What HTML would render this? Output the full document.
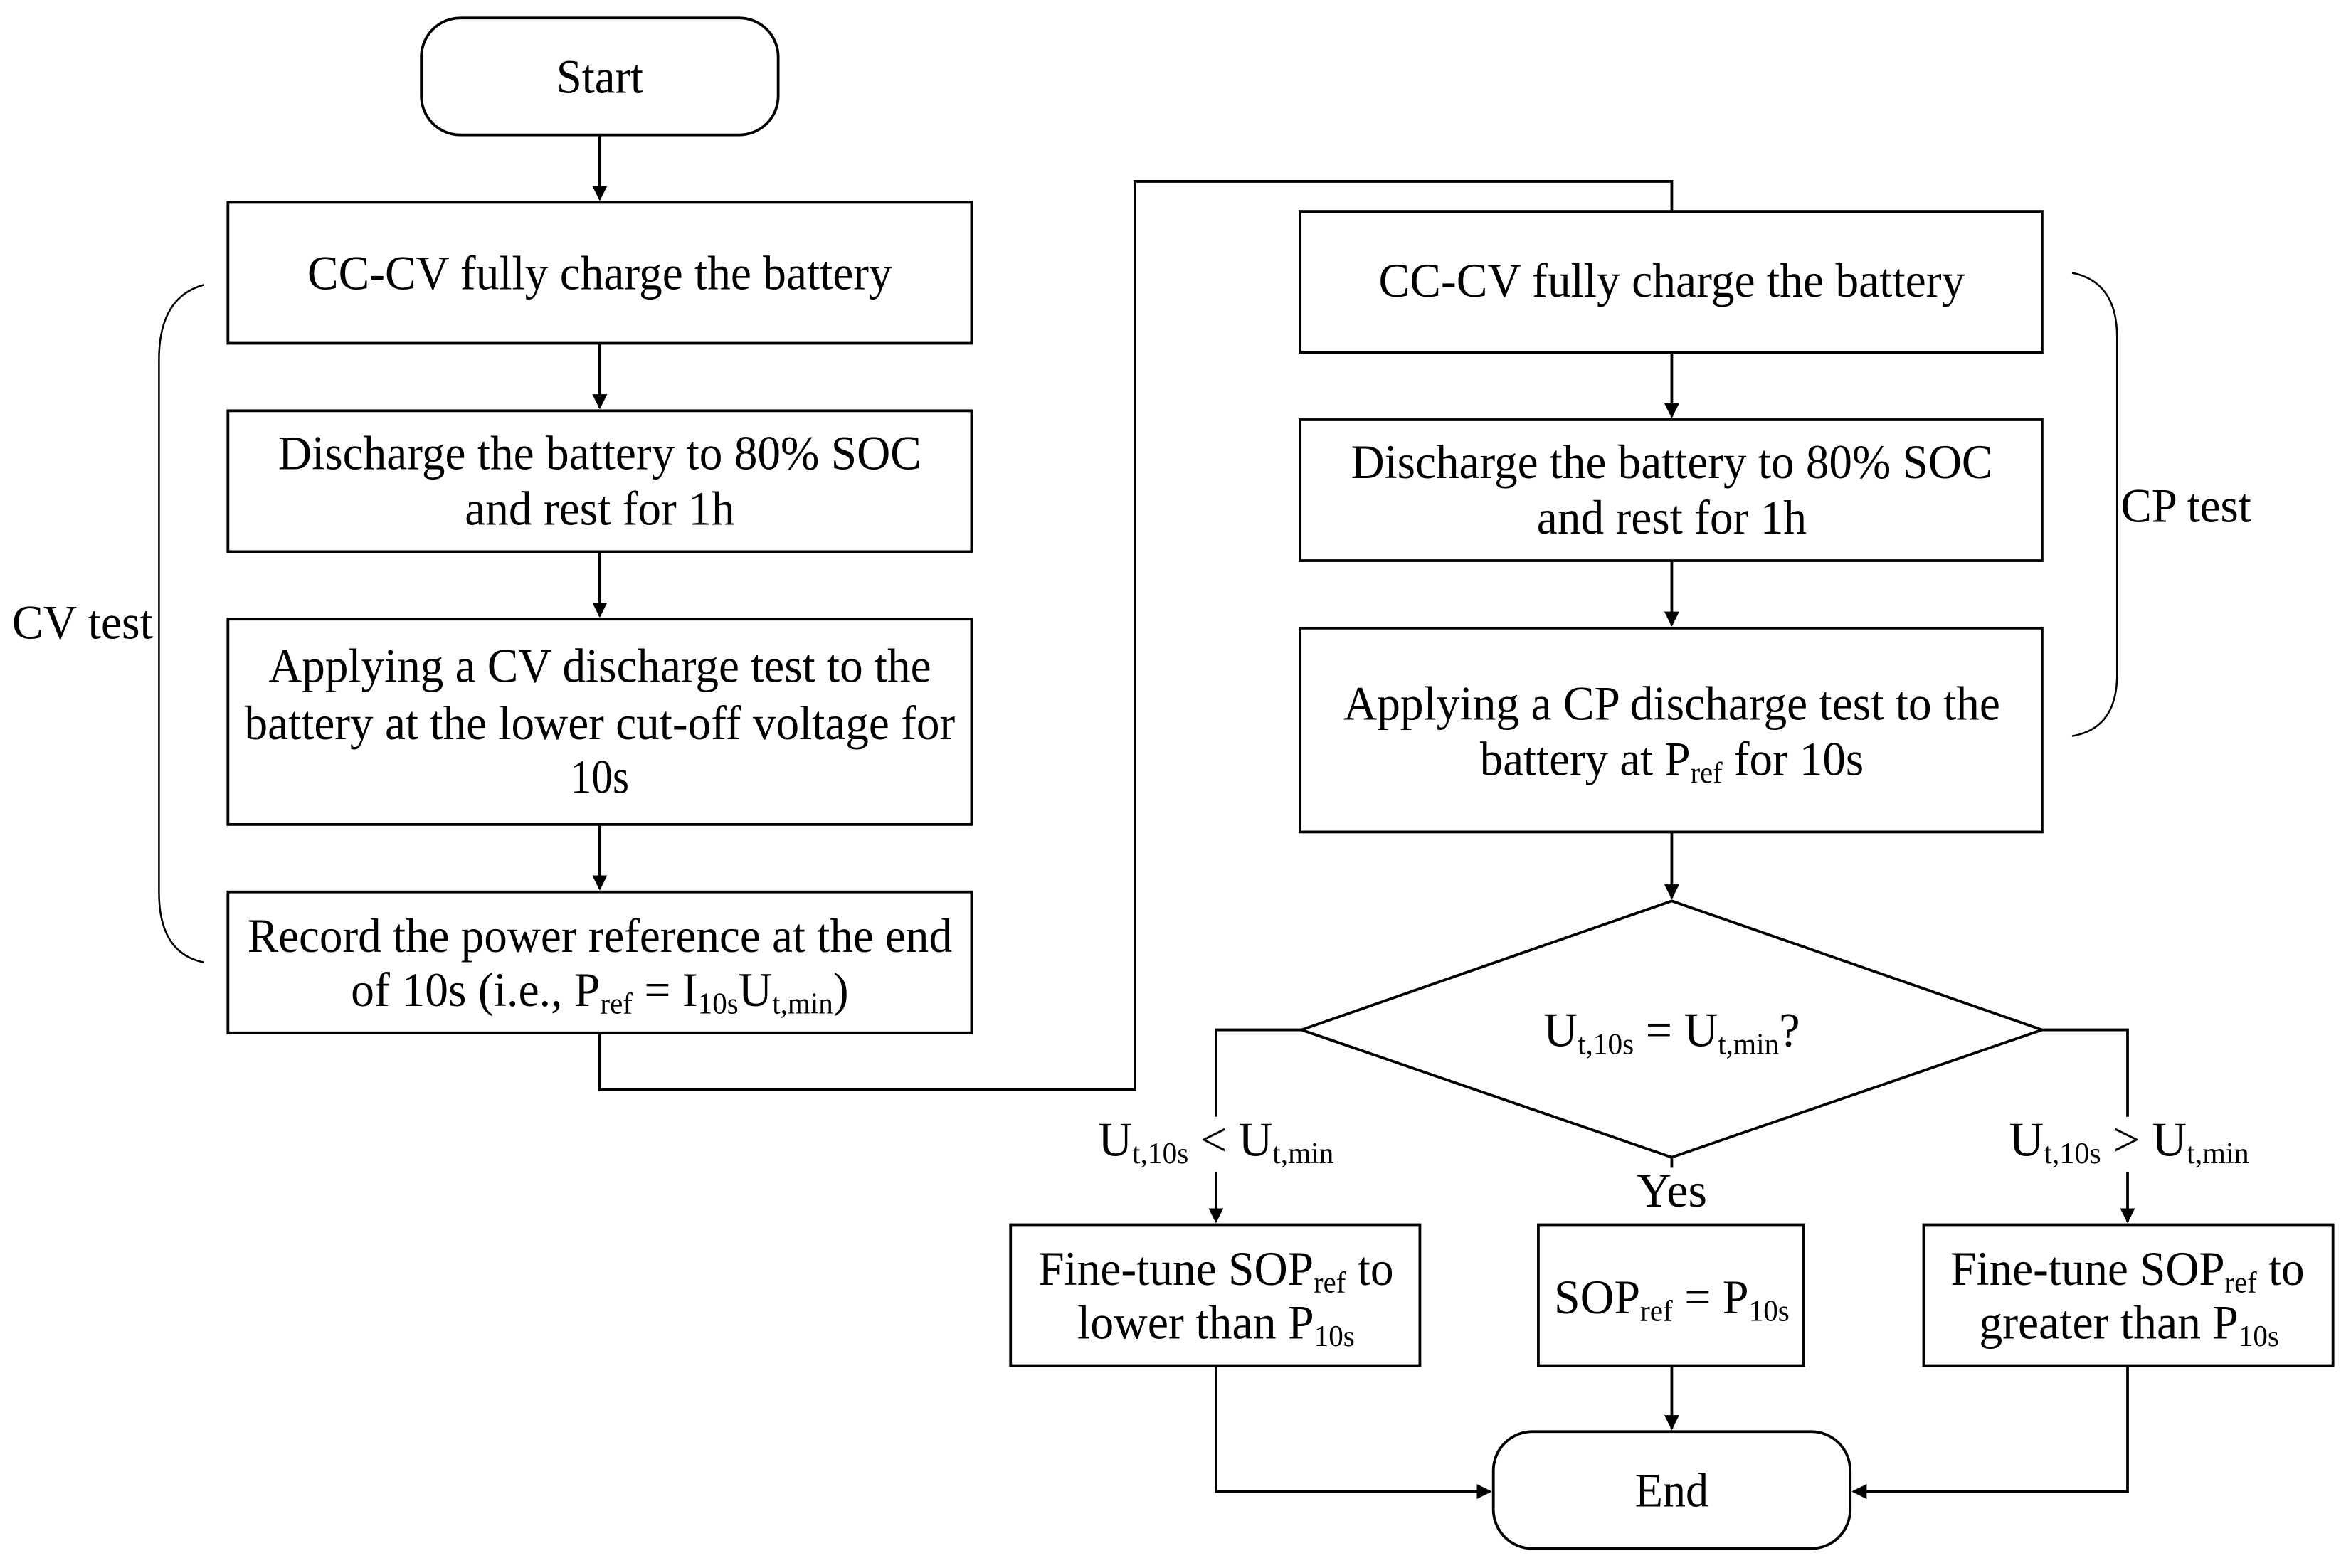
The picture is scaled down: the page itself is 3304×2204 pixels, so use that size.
<!DOCTYPE html>
<html><head><meta charset="utf-8"><style>
html,body{margin:0;padding:0;background:#fff;}
svg{display:block;}
text{font-family:"Liberation Serif",serif;font-size:32px;fill:#000;}
</style></head><body>
<svg width="3304" height="2204" viewBox="0 0 1568 1046" xmlns="http://www.w3.org/2000/svg">
<defs><marker id="a" markerWidth="10" markerHeight="10" refX="9" refY="5" orient="auto" markerUnits="userSpaceOnUse"><path d="M0,0 L10,5 L0,10 Z" fill="#000"/></marker></defs>
<g fill="none" stroke="#000" stroke-width="1.8">
<rect x="281" y="12" width="238" height="78" rx="26"/>
<rect x="152" y="135" width="496" height="94"/>
<rect x="152" y="274" width="496" height="94"/>
<rect x="152" y="413" width="496" height="137"/>
<rect x="152" y="595" width="496" height="94"/>
<rect x="867" y="141" width="495" height="94"/>
<rect x="867" y="280" width="495" height="94"/>
<rect x="867" y="419" width="495" height="136"/>
<polygon points="1115,601 1362,687 1115,772 868,687"/>
<rect x="674" y="817" width="273" height="94"/>
<rect x="1026" y="817" width="177" height="94"/>
<rect x="1283" y="817" width="273" height="94"/>
<rect x="996" y="955" width="238" height="78" rx="26"/>
<path d="M400,90 V133" marker-end="url(#a)"/>
<path d="M400,229 V272" marker-end="url(#a)"/>
<path d="M400,368 V411" marker-end="url(#a)"/>
<path d="M400,550 V593" marker-end="url(#a)"/>
<path d="M400,689 V727 H757 V121 H1115 V141"/>
<path d="M1115,235 V278" marker-end="url(#a)"/>
<path d="M1115,374 V417" marker-end="url(#a)"/>
<path d="M1115,555 V599" marker-end="url(#a)"/>
<path d="M868,687 H811 V745"/>
<path d="M811,782 V815" marker-end="url(#a)"/>
<path d="M1362,687 H1419 V745"/>
<path d="M1419,782 V815" marker-end="url(#a)"/>
<path d="M1115,772 V779"/>
<path d="M1115,911 V953" marker-end="url(#a)"/>
<path d="M811,911 V995 H994" marker-end="url(#a)"/>
<path d="M1419,911 V995 H1236" marker-end="url(#a)"/>
<path d="M136,190 Q106,198 106,240 V595 Q106,636 136,642" stroke-width="1.2"/>
<path d="M1382,182 Q1412,188 1412,225 V450 Q1412,486 1382,491" stroke-width="1.2"/>
</g>
<g text-anchor="middle">
<text x="400" y="62" textLength="58" lengthAdjust="spacingAndGlyphs">Start</text>
<text x="400" y="193" textLength="390" lengthAdjust="spacingAndGlyphs">CC-CV fully charge the battery</text>
<text x="400" y="313" textLength="429" lengthAdjust="spacingAndGlyphs">Discharge the battery to 80% SOC</text>
<text x="400" y="350" textLength="180" lengthAdjust="spacingAndGlyphs">and rest for 1h</text>
<text x="400" y="455" textLength="442" lengthAdjust="spacingAndGlyphs">Applying a CV discharge test to the</text>
<text x="400" y="493" textLength="474" lengthAdjust="spacingAndGlyphs">battery at the lower cut-off voltage for</text>
<text x="400" y="529" textLength="39" lengthAdjust="spacingAndGlyphs">10s</text>
<text x="400" y="635" textLength="470" lengthAdjust="spacingAndGlyphs">Record the power reference at the end</text>
<text x="400" y="671" textLength="332" lengthAdjust="spacingAndGlyphs">of 10s (i.e., P<tspan font-size="20" dy="5">ref</tspan><tspan dy="-5"> = I</tspan><tspan font-size="20" dy="5">10s</tspan><tspan dy="-5">U</tspan><tspan font-size="20" dy="5">t,min</tspan><tspan dy="-5">)</tspan></text>
<text x="1115" y="198" textLength="391" lengthAdjust="spacingAndGlyphs">CC-CV fully charge the battery</text>
<text x="1115" y="319" textLength="428" lengthAdjust="spacingAndGlyphs">Discharge the battery to 80% SOC</text>
<text x="1115" y="356" textLength="180" lengthAdjust="spacingAndGlyphs">and rest for 1h</text>
<text x="1115" y="480" textLength="438" lengthAdjust="spacingAndGlyphs">Applying a CP discharge test to the</text>
<text x="1115" y="517" textLength="256" lengthAdjust="spacingAndGlyphs">battery at P<tspan font-size="20" dy="5">ref</tspan><tspan dy="-5"> for 10s</tspan></text>
<text x="1115" y="698" textLength="171" lengthAdjust="spacingAndGlyphs">U<tspan font-size="20" dy="5">t,10s</tspan><tspan dy="-5"> = U</tspan><tspan font-size="20" dy="5">t,min</tspan><tspan dy="-5">?</tspan></text>
<text x="811" y="771" textLength="157" lengthAdjust="spacingAndGlyphs">U<tspan font-size="20" dy="5">t,10s</tspan><tspan dy="-5"> &lt; U</tspan><tspan font-size="20" dy="5">t,min</tspan></text>
<text x="1420" y="771" textLength="160" lengthAdjust="spacingAndGlyphs">U<tspan font-size="20" dy="5">t,10s</tspan><tspan dy="-5"> &gt; U</tspan><tspan font-size="20" dy="5">t,min</tspan></text>
<text x="1115" y="805" textLength="47" lengthAdjust="spacingAndGlyphs">Yes</text>
<text x="811" y="857" textLength="237" lengthAdjust="spacingAndGlyphs">Fine-tune SOP<tspan font-size="20" dy="5">ref</tspan><tspan dy="-5"> to</tspan></text>
<text x="811" y="893" textLength="185" lengthAdjust="spacingAndGlyphs">lower than P<tspan font-size="20" dy="5">10s</tspan></text>
<text x="1115" y="876" textLength="157" lengthAdjust="spacingAndGlyphs">SOP<tspan font-size="20" dy="5">ref</tspan><tspan dy="-5"> = P</tspan><tspan font-size="20" dy="5">10s</tspan></text>
<text x="1419" y="857" textLength="236" lengthAdjust="spacingAndGlyphs">Fine-tune SOP<tspan font-size="20" dy="5">ref</tspan><tspan dy="-5"> to</tspan></text>
<text x="1420" y="893" textLength="200" lengthAdjust="spacingAndGlyphs">greater than P<tspan font-size="20" dy="5">10s</tspan></text>
<text x="1115" y="1005" textLength="49" lengthAdjust="spacingAndGlyphs">End</text>
<text x="55" y="426" textLength="94" lengthAdjust="spacingAndGlyphs">CV test</text>
<text x="1458" y="348" textLength="87" lengthAdjust="spacingAndGlyphs">CP test</text>
</g>
</svg>
</body></html>
